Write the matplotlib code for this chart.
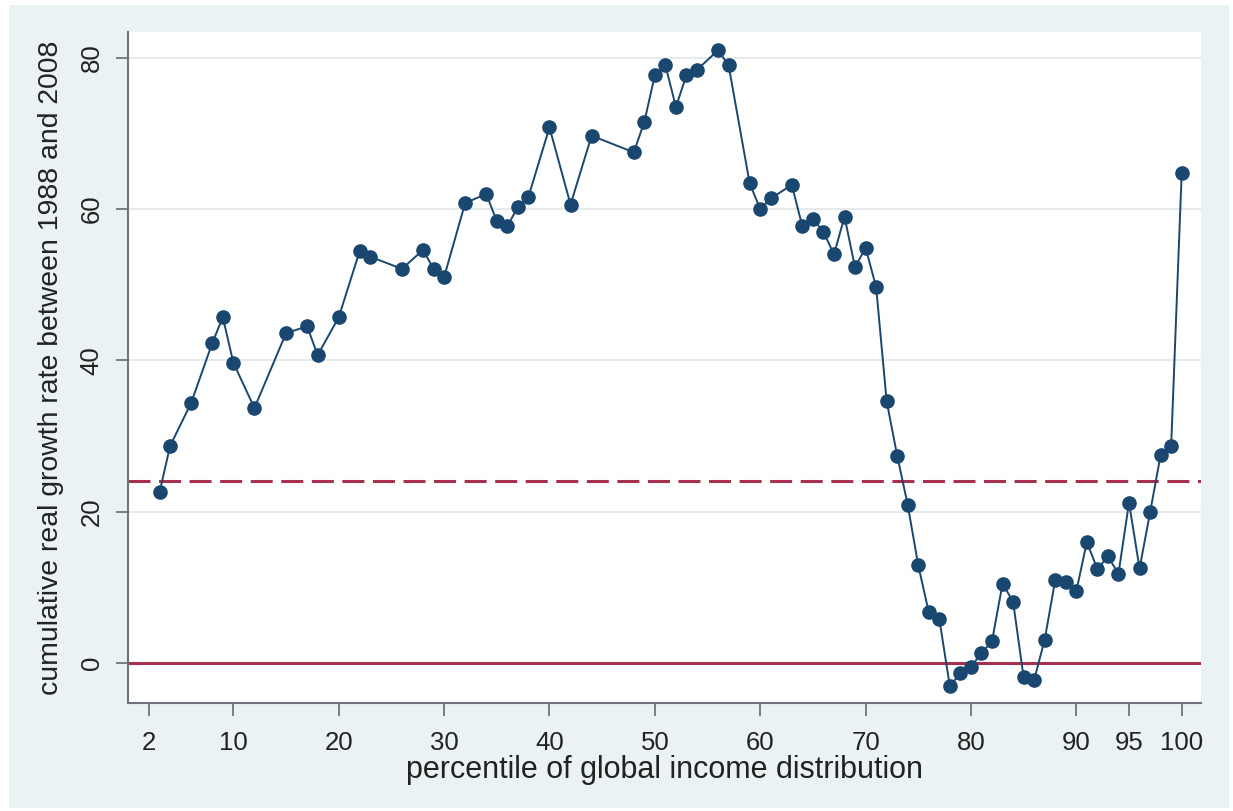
"""Elephant curve: cumulative real income growth 1988-2008 by global income percentile."""
import matplotlib
matplotlib.use("Agg")
import matplotlib.pyplot as plt
from matplotlib.patches import Rectangle

plt.rcParams["font.family"] = ["Liberation Sans", "DejaVu Sans"]

# percentile positions and growth values
percentile = [3, 4, 6, 8, 9, 10, 12, 15, 17, 18, 20, 22, 23, 26, 28, 29, 30,
              32, 34, 35, 36, 37, 38, 40, 42, 44, 48, 49, 50, 51, 52, 53, 54,
              56, 57, 59, 60, 61, 63, 64, 65, 66, 67, 68, 69, 70, 71, 72, 73,
              74, 75, 76, 77, 78, 79, 80, 81, 82, 83, 84, 85, 86, 87, 88, 89,
              90, 91, 92, 93, 94, 95, 96, 97, 98, 99, 100]
growth = [22.6, 28.7, 34.4, 42.3, 45.7, 39.7, 33.7, 43.6, 44.5, 40.7, 45.7,
          54.5, 53.7, 52.1, 54.6, 52.1, 51.0,
          60.8, 62.0, 58.4, 57.7, 60.3, 61.6, 70.8, 60.6, 69.7, 67.5, 71.5,
          77.7, 79.0, 73.5, 77.7, 78.4,
          81.0, 79.0, 63.4, 60.0, 61.4, 63.2, 57.7, 58.7, 57.0, 54.0, 59.0,
          52.3, 54.9, 49.7, 34.6, 27.4,
          20.9, 12.9, 6.7, 5.8, -3.1, -1.3, -0.5, 1.3, 2.9, 10.5, 8.1, -1.9,
          -2.2, 3.1, 11.0, 10.7,
          9.5, 16.0, 12.4, 14.1, 11.8, 21.2, 12.5, 19.9, 27.5, 28.7, 64.8]

x_ticks = [2, 10, 20, 30, 40, 50, 60, 70, 80, 90, 95, 100]
y_ticks = [0, 20, 40, 60, 80]
mean_growth = 24.0

NAVY = "#1a476f"
RED = "#a8304f"
AXIS_GRAY = "#6e7479"
TEXT = "#222222"

fig = plt.figure(figsize=(12.33, 8.11), dpi=100, facecolor="white")
fig.patches.append(Rectangle((0.007, 0.004), 0.99, 0.99, transform=fig.transFigure,
                             facecolor="#eaf2f3", edgecolor="none", zorder=-10))
ax = fig.add_axes([0.1038, 0.133, 0.8704, 0.8275])
ax.set_facecolor("white")

ax.plot(percentile, growth, color=NAVY, lw=1.4, marker="o", ms=9.5,
        mfc=NAVY, mec=NAVY, zorder=3)
ax.axhline(0, color=RED, lw=2.2, zorder=2)
ax.axhline(mean_growth, color=RED, lw=2.2, dashes=(7.2, 2.8), zorder=2)

ax.set_xlim(0, 101.85)
ax.set_ylim(-5.3, 83.4)
ax.set_xticks(x_ticks)
ax.set_yticks(y_ticks)
ax.set_yticklabels([str(v) for v in y_ticks], rotation=90, va="center")
ax.grid(axis="y", color="#e6eaeb", lw=1.5, zorder=0)

for side in ("top", "right"):
    ax.spines[side].set_visible(False)
for side in ("left", "bottom"):
    ax.spines[side].set_color(AXIS_GRAY)
    ax.spines[side].set_linewidth(1.5)
ax.tick_params(axis="both", colors=AXIS_GRAY, length=9, width=1.3,
               labelsize=18.5, labelcolor=TEXT)
ax.tick_params(axis="x", pad=11)
ax.tick_params(axis="y", pad=8.5)

ax.set_xlabel("percentile of global income distribution", fontsize=22,
              color=TEXT, labelpad=0)
ax.set_ylabel("cumulative real growth rate between 1988 and 2008", fontsize=20.4,
              color=TEXT, labelpad=11)

fig.savefig("out.png", dpi=100, facecolor=fig.get_facecolor())
